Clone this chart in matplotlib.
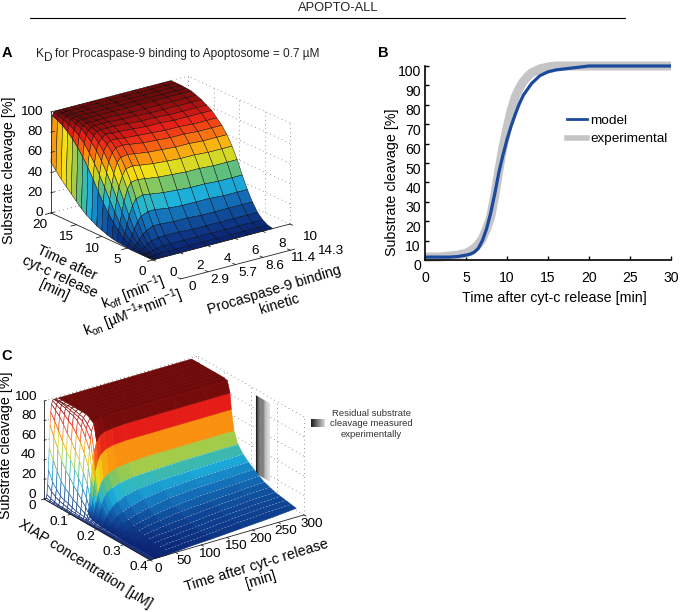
import numpy as np
import matplotlib
matplotlib.use("Agg")
import matplotlib.pyplot as plt
from matplotlib.colors import LinearSegmentedColormap
from matplotlib.lines import Line2D
from matplotlib.transforms import ScaledTranslation
from mpl_toolkits.mplot3d import proj3d

plt.rcParams['font.family'] = ['Liberation Sans', 'DejaVu Sans']
plt.rcParams['mathtext.default'] = 'regular'

W, H = 683, 612
TICK_FS = 9.7
LABEL_FS = 10.3

# Panel A: surface, one row per minute, one column per koff value
a_time = list(range(21))
a_koff = [0, 0.1, 0.2, 0.35, 0.5, 0.75, 1, 1.5, 2, 3, 4, 5, 6, 7, 8, 8.75]
a_z = [
    [0, 0, 0, 0, 0, 0, 0, 0, 0, 0, 0, 0, 0, 0, 0, 0],
    [0, 0, 0, 0, .5, .5, 1, 1, 1, 1, 1, 1, 1, 1, 1, 1],
    [0, .5, .5, 1, 1, 2, 3, 4, 4, 4, 4, 4, 4, 4, 4, 4],
    [0, 1, 2, 3, 4, 6, 8, 10, 10, 10, 9, 9, 9, 9, 9, 9],
    [0, 2, 4, 6, 9, 13, 16, 19, 19, 18, 18, 17, 17, 17, 17, 17],
    [.5, 4, 7, 12, 17, 24, 28, 31, 31, 29, 28, 28, 28, 27, 27, 27],
    [1, 7, 12, 20, 28, 37, 43, 45, 44, 42, 41, 40, 40, 39, 39, 39],
    [1.5, 12, 19, 30, 40, 51, 57, 58, 57, 55, 54, 53, 53, 52, 52, 52],
    [2.5, 18, 28, 41, 52, 62, 68, 69, 68, 66, 65, 64, 64, 63, 63, 63],
    [4, 25, 38, 52, 63, 73, 77, 78, 77, 75, 74, 73, 73, 72, 72, 72],
    [6, 33, 48, 62, 72, 80, 84, 85, 84, 82, 81, 80, 80, 79, 79, 79],
    [8, 42, 58, 71, 80, 86, 89, 89, 88, 87, 86, 85, 85, 84, 84, 84],
    [11, 52, 67, 79, 86, 90, 93, 92, 92, 91, 90, 90, 89, 89, 89, 89],
    [14, 61, 75, 85, 91, 94, 95, 95, 95, 94, 93, 93, 92, 92, 92, 92],
    [18, 69, 82, 90, 94, 96, 97, 97, 97, 96, 96, 95, 95, 95, 95, 95],
    [23, 76, 87, 94, 96, 98, 98, 98, 98, 98, 97, 97, 97, 97, 97, 97],
    [28, 82, 91, 96, 98, 99, 99, 99, 99, 99, 99, 99, 99, 99, 99, 99],
    [33, 87, 94, 98, 99, 99.5, 99.5, 99.5, 99.5, 99.5, 99.5, 99.5, 99.5, 99.5, 99.5, 99.5],
    [38, 91, 96, 99, 99.5, 100, 100, 100, 100, 100, 100, 100, 100, 100, 100, 100],
    [44, 94, 98, 99.5, 100, 100, 100, 100, 100, 100, 100, 100, 100, 100, 100, 100],
    [50, 96, 99, 100, 100, 100, 100, 100, 100, 100, 100, 100, 100, 100, 100, 100],
]
koff_ticks = [0, 2, 4, 6, 8, 10]
kon_ticks = ['0', '2.9', '5.7', '8.6', '11.4', '14.3']
a_time_ticks = [0, 5, 10, 15, 20]
z_ticks = [0, 20, 40, 60, 80, 100]

# Panel B
b_time = [0, 1, 2, 3, 4, 5, 5.5, 6, 6.5, 7, 7.5, 8, 8.5, 9, 9.5, 10, 10.5, 11, 11.5, 12, 12.5, 13,
          14, 15, 16, 18, 20, 25, 30]
b_model = [1.5, 1.5, 1.5, 1.5, 1.8, 2.5, 3, 4, 6, 10, 16, 24, 34, 45, 54, 62, 69, 75, 80.5, 85, 88, 91,
           95, 97, 98, 99, 100, 100, 100]
b_exp = [1.5, 1.5, 1.6, 2, 2.5, 3.5, 4.5, 6, 8, 11, 16, 22, 33, 46, 58, 68, 77, 84, 88.5, 92, 94.5, 96.5,
         98.5, 99.5, 100, 100, 100, 100, 100]
b_xticks = [0, 5, 10, 15, 20, 25, 30]
b_yticks = [0, 10, 20, 30, 40, 50, 60, 70, 80, 90, 100]

# Panel C: one row per XIAP value, one column per time
c_time = [0, 1.5, 3, 4.5, 6, 7.5, 9, 10.5, 12, 14, 16, 18, 20, 25, 30, 40, 55, 80, 120, 180, 240, 285]
c_xiap = [.005, .02, .035, .05, .065, .08, .095, .11, .125, .14, .15, .155, .165, .18, .2, .22, .24,
          .26, .28, .3, .32, .34, .36, .38, .4]
c_z = [
    [0, 2, 5, 15, 30, 52, 75, 88, 96, 99, 100, 100, 100, 100, 100, 100, 100, 100, 100, 100, 100, 100],
    [0, 1, 3, 10, 20, 42, 65, 81, 92, 97, 100, 100, 100, 100, 100, 100, 100, 100, 100, 100, 100, 100],
    [0, 1, 2, 7, 15, 33, 55, 73, 88, 95, 99, 100, 100, 100, 100, 100, 100, 100, 100, 100, 100, 100],
    [0, .5, 1, 5, 10, 25, 45, 65, 82, 92, 98, 99, 100, 100, 100, 100, 100, 100, 100, 100, 100, 100],
    [0, .5, 1, 4, 8, 20, 38, 57, 75, 88, 96, 98, 100, 100, 100, 100, 100, 100, 100, 100, 100, 100],
    [0, .5, 1, 3, 7, 17, 33, 51, 70, 85, 95, 97, 99, 100, 100, 100, 100, 100, 100, 100, 100, 100],
    [0, 0, .5, 2, 5, 13, 27, 44, 62, 79, 92, 96, 98, 100, 100, 100, 100, 100, 100, 100, 100, 100],
    [0, 0, .5, 2, 4, 11, 22, 37, 55, 73, 88, 94, 97, 100, 100, 100, 100, 100, 100, 100, 100, 100],
    [0, 0, .5, 1, 3, 8, 17, 29, 45, 64, 80, 88, 93, 98, 100, 100, 100, 100, 100, 100, 100, 100],
    [0, 0, .5, 1, 3, 6, 12, 21, 35, 53, 70, 80, 88, 95, 97, 98, 99, 99, 99, 99, 99, 99],
    [0, 0, 0, 1, 2, 4, 8, 14, 24, 37, 50, 60, 68, 78, 83, 86, 87, 88, 88, 88, 88, 88],
    [0, 0, 0, .5, 1, 3, 5, 9, 15, 24, 35, 43, 50, 60, 65, 69, 71, 72, 72, 72, 72, 72],
    [0, 0, 0, .5, 1, 2, 3, 5, 9, 14, 20, 25, 30, 38, 42, 46, 49, 51, 52, 52, 52, 52],
    [0, 0, 0, 0, .5, 1, 2, 3, 6, 9, 13, 16, 20, 26, 30, 33, 36, 38, 39, 40, 40, 40],
    [0, 0, 0, 0, .5, .5, 1, 2, 3, 5, 7, 9, 11, 15, 18, 22, 26, 29, 31, 32, 33, 33],
    [0, 0, 0, 0, 0, .5, 1, 1, 2, 3, 4, 5, 7, 10, 12, 15, 18, 22, 25, 27, 28, 28],
    [0, 0, 0, 0, 0, 0, .5, 1, 1, 2, 3, 3, 4, 6, 8, 10, 13, 16, 20, 22, 23, 24],
    [0, 0, 0, 0, 0, 0, .5, .5, 1, 1, 2, 2, 3, 4, 5, 7, 9, 12, 15, 18, 19, 20],
    [0, 0, 0, 0, 0, 0, 0, 0, .5, 1, 1, 1, 2, 3, 4, 5, 7, 9, 12, 14, 16, 17],
    [0, 0, 0, 0, 0, 0, 0, 0, .5, .5, 1, 1, 1, 2, 3, 4, 5, 7, 9, 12, 14, 15],
    [0, 0, 0, 0, 0, 0, 0, 0, 0, 0, .5, .5, 1, 1, 2, 3, 4, 5, 7, 10, 12, 13],
    [0, 0, 0, 0, 0, 0, 0, 0, 0, 0, .5, .5, .5, 1, 1, 2, 3, 4, 6, 9, 11, 12],
    [0, 0, 0, 0, 0, 0, 0, 0, 0, 0, 0, 0, .5, .5, 1, 1, 2, 3, 5, 8, 10, 11],
    [0, 0, 0, 0, 0, 0, 0, 0, 0, 0, 0, 0, 0, .5, .5, 1, 1.5, 2.5, 4, 7, 9, 10],
    [0, 0, 0, 0, 0, 0, 0, 0, 0, 0, 0, 0, 0, 0, 0, .5, 1, 2, 3, 5, 7, 9],
]
c_time_ticks = [0, 50, 100, 150, 200, 250, 300]
c_xiap_ticks = [0, .1, .2, .3, .4]

# muted jet as it looks in the figure
surf_cmap = LinearSegmentedColormap.from_list('muted_jet', [
    (0.00, (10 / 255, 35 / 255, 115 / 255)),
    (0.12, (15 / 255, 70 / 255, 150 / 255)),
    (0.25, (20 / 255, 120 / 255, 190 / 255)),
    (0.35, (30 / 255, 180 / 255, 220 / 255)),
    (0.45, (90 / 255, 190 / 255, 130 / 255)),
    (0.55, (190 / 255, 210 / 255, 50 / 255)),
    (0.62, (245 / 255, 225 / 255, 20 / 255)),
    (0.72, (250 / 255, 145 / 255, 15 / 255)),
    (0.80, (245 / 255, 80 / 255, 20 / 255)),
    (0.88, (230 / 255, 30 / 255, 25 / 255)),
    (0.95, (160 / 255, 15 / 255, 15 / 255)),
    (1.00, (110 / 255, 10 / 255, 10 / 255)),
])


def px(x, y):
    return x / W, 1 - y / H


def add_3d(left, top_center, size, aspect, elev, azim):
    # left / top_center in pixels, matplotlib puts the box centre at 0.5135 of the axes
    ax = fig.add_axes([left / W, (H - top_center - 0.5135 * size) / H, size / W, size / H],
                      projection='3d', proj_type='ortho', computed_zorder=False)
    ax.set_box_aspect(aspect)
    ax.view_init(elev=elev, azim=azim)
    ax.set_xticks([])
    ax.set_yticks([])
    ax.set_zticks([])
    ax.set_axis_off()
    ax.set_facecolor('none')
    return ax


def tick_text(ax, x, y, z, s, ha='center'):
    # limits must be set already, labels go in as plain 2D text at the projected spot
    x2, y2, _ = proj3d.proj_transform(x, y, z, ax.get_proj())
    ax.text2D(x2, y2, s, transform=ax.transData, ha=ha, va='center', fontsize=TICK_FS)


def box_grid(ax, x0, x1, y_front, y_back, xt, yt, zt):
    # dotted grid on the two back walls, solid front edges
    grid = dict(color='#777777', lw=0.6, ls=(0, (1, 4)), zorder=1)
    for z in zt:
        ax.plot([x0, x1], [y_back, y_back], [z, z], **grid)
        ax.plot([x1, x1], [y_front, y_back], [z, z], **grid)
    for x in xt:
        ax.plot([x, x], [y_back, y_back], [0, 100], **grid)
    for y in yt:
        ax.plot([x1, x1], [y, y], [0, 100], **grid)
    edge = dict(color='#222222', lw=0.6, zorder=3)
    ax.plot([x0, x1], [y_front, y_front], [0, 0], **edge)
    ax.plot([x0, x0], [y_front, y_back], [0, 0], **edge)
    ax.plot([x0, x0], [y_back, y_back], [0, 100], **edge)


fig = plt.figure(figsize=(W / 100, H / 100), dpi=100)

# header
fig.text(*px(338, 8), 'APOPTO-ALL', ha='center', va='center', fontsize=9.3, color='#222222')
fig.add_artist(Line2D([30 / W, 625 / W], [1 - 18 / H, 1 - 18 / H], color='k', lw=0.8))

fig.text(*px(2, 53), 'A', fontsize=10.5, fontweight='bold', va='center')
fig.text(*px(378, 53), 'B', fontsize=10.5, fontweight='bold', va='center')
fig.text(*px(1, 356), 'C', fontsize=10.5, fontweight='bold', va='center')

fig.text(*px(36, 54), 'K', fontsize=8.6, va='center', color='#222222')
fig.text(*px(44, 58), 'D', fontsize=8.6, va='center', color='#222222')
fig.text(*px(55, 54), 'for Procaspase-9 binding to Apoptosome = 0.7 µM', fontsize=8.6,
         va='center', color='#222222')

# --- panel A ---
ax_a = add_3d(38.8, 168, 256.4, (171.7, 169.4, 107.7), 20.3, -127)
X, Y = np.meshgrid(a_koff, a_time)
box_grid(ax_a, 0, 10, 0, 20, koff_ticks, a_time_ticks, z_ticks)
ax_a.plot_surface(X, Y, np.array(a_z), cmap=surf_cmap, vmin=0, vmax=100, rstride=1, cstride=1,
                  edgecolor='k', linewidth=0.3, zorder=2)
ax_a.set_xlim(0, 10)
ax_a.set_ylim(0, 20)
ax_a.set_zlim(0, 100)
for k in koff_ticks:
    ax_a.plot([k, k], [0, -0.5], [0, 0], color='#222222', lw=0.6, zorder=3)
    tick_text(ax_a, k - 0.39, -4.95, 0, str(k))
# kon runs on its own axis under koff
kon_x = [-0.63 + i * 2.0 for i in range(len(kon_ticks))]
ax_a.plot([kon_x[0], kon_x[-1]], [-7.15, -7.15], [0, 0], color='#222222', lw=0.6, zorder=3)
for x, lab in zip(kon_x, kon_ticks):
    ax_a.plot([x, x], [-7.15, -6.6], [0, 0], color='#222222', lw=0.6, zorder=3)
    tick_text(ax_a, x - 0.26, -10.2, 0, lab)
for t in a_time_ticks:
    ax_a.plot([0, -0.4], [t, t], [0, 0], color='#222222', lw=0.6, zorder=3)
    tick_text(ax_a, -1.72, t - 2.55, 0, str(t))
for z in z_ticks:
    ax_a.plot([0, 0.25], [20, 20], [z, z], color='#222222', lw=0.6, zorder=3)
    tick_text(ax_a, -0.38, 20.57, z, str(z), ha='right')
ax_a.set_xlim(0, 10)
ax_a.set_ylim(0, 20)
ax_a.set_zlim(0, 100)

fig.text(*px(9, 170), 'Substrate cleavage [%]', rotation=90, ha='center', va='center', fontsize=LABEL_FS)
fig.text(*px(60, 277), 'Time after\ncyt-c release\n[min]', rotation=-25, ha='center', va='center',
         multialignment='center', fontsize=LABEL_FS, rotation_mode='anchor', linespacing=1.1)
fig.text(*px(133, 293), r'k$_{off}$ [min$^{-1}$]', rotation=21, ha='center', va='center',
         fontsize=LABEL_FS, rotation_mode='anchor')
fig.text(*px(133, 313), r'k$_{on}$ [µM$^{-1}$*min$^{-1}$]', rotation=21, ha='center', va='center',
         fontsize=LABEL_FS, rotation_mode='anchor')
fig.text(*px(277, 297), 'Procaspase-9 binding\nkinetic', rotation=17, ha='center', va='center',
         multialignment='center', fontsize=LABEL_FS, rotation_mode='anchor', linespacing=1.1)

# --- panel B ---
ax_b = fig.add_axes([425 / W, 1 - 260 / H, 246 / W, 194 / H])
ax_b.plot(b_time, b_exp, color='#c5c5c7', lw=6.5, solid_capstyle='butt', clip_on=False)
ax_b.plot(b_time, b_model, color='#1b4a9d', lw=2.3, solid_capstyle='butt', clip_on=False)
ax_b.set_xlim(0, 30)
ax_b.set_ylim(0, 100)
ax_b.set_xticks(b_xticks)
ax_b.set_yticks(b_yticks)
ax_b.spines['top'].set_visible(False)
ax_b.spines['right'].set_visible(False)
ax_b.spines['left'].set_linewidth(1.2)
ax_b.spines['bottom'].set_linewidth(1.2)
ax_b.tick_params(axis='y', direction='in', length=3, width=1, labelsize=TICK_FS + 0.4, pad=3)
ax_b.tick_params(axis='x', direction='in', length=3, width=1, labelsize=TICK_FS + 0.4, pad=8)
# y tick labels sit a little under their ticks in the original
for lab in ax_b.get_yticklabels():
    lab.set_transform(lab.get_transform() + ScaledTranslation(0, -0.05, fig.dpi_scale_trans))
ax_b.set_xlabel('Time after cyt-c release [min]', fontsize=LABEL_FS)
ax_b.xaxis.set_label_coords(0.525, -0.16)
ax_b.set_ylabel('Substrate cleavage [%]', fontsize=LABEL_FS)
ax_b.yaxis.set_label_coords(-0.105, 0.4)
leg_lines = [Line2D([], [], color='#1b4a9d', lw=2), Line2D([], [], color='#c5c5c7', lw=4)]
ax_b.legend(leg_lines, ['model', 'experimental'], frameon=False, fontsize=TICK_FS, handlelength=1.45,
            handletextpad=0.3, labelspacing=0.45, loc='upper left', borderaxespad=0, borderpad=0,
            bbox_to_anchor=(567 / W, 1 - 114.5 / H), bbox_transform=fig.transFigure)

# --- panel C ---
ax_c = add_3d(32.5, 458, 275.5, (189, 182.4, 107.4), 24.2, -125.5)
box_grid(ax_c, 0, 300, 0.4, 0, c_time_ticks, c_xiap_ticks, z_ticks)
Zc = np.array(c_z, dtype=float)
Xc, Yc = np.meshgrid(c_time, c_xiap)

# colour of a facet follows its highest corner, the steep start stays white with coloured lines
corners = np.stack([Zc[:-1, :-1], Zc[1:, :-1], Zc[:-1, 1:], Zc[1:, 1:]])
edge_cols = surf_cmap(corners.max(axis=0) / 100)
face_cols = edge_cols.copy()
is_wall = np.zeros(face_cols.shape[:2], dtype=bool)
is_wall[:10, :13] = True
is_wall[:, :6] = True
face_cols[is_wall] = (1, 1, 1, 1)
edge_cols[is_wall] = surf_cmap(corners.mean(axis=0)[is_wall] / 100)

# grey wall behind the surface
wall_Y, wall_Z = np.meshgrid(np.linspace(.219, .272, 13), [14, 94])
wall_cols = np.ones((1, 12, 4))
wall_cols[0, :, :3] = np.linspace(.12, .88, 12)[:, None]
ax_c.plot_surface(np.full_like(wall_Y, 300.0), wall_Y, wall_Z, facecolors=wall_cols, shade=False,
                  rstride=1, cstride=1, linewidth=0, zorder=1.5)

surf_c = ax_c.plot_surface(Xc, Yc, Zc, facecolors=face_cols, shade=False,
                           rstride=1, cstride=1, linewidth=0.45, zorder=2)
surf_c.set_edgecolor(edge_cols.reshape(-1, 4))

# pale broken lines along the rows in the plateau
for i in range(13, len(c_xiap) - 1):
    ax_c.plot(c_time[15:], [c_xiap[i]] * 7, c_z[i][15:], color='white', lw=0.4, ls=(0, (3, 3)),
              alpha=0.6, zorder=2.5)

ax_c.set_xlim(0, 300)
ax_c.set_ylim(.4, 0)
ax_c.set_zlim(0, 100)
for t in c_time_ticks:
    ax_c.plot([t, t], [.4, .408], [0, 0], color='#222222', lw=0.6, zorder=3)
    tick_text(ax_c, t - 9.9, .449, 0, str(t))
for x in c_xiap_ticks:
    ax_c.plot([0, -5], [x, x], [0, 0], color='#222222', lw=0.6, zorder=3)
    tick_text(ax_c, -31.2, x + .0175, 0, '0' if x == 0 else str(x))
for z in z_ticks:
    ax_c.plot([0, 4], [0, 0], [z, z], color='#222222', lw=0.6, zorder=3)
    # labels stand a bit above their ticks in the original
    tick_text(ax_c, -10.3, -.0101, z + 4.5, str(z), ha='right')
ax_c.set_xlim(0, 300)
ax_c.set_ylim(.4, 0)
ax_c.set_zlim(0, 100)

fig.text(*px(6, 445), 'Substrate cleavage [%]', rotation=90, ha='center', va='center', fontsize=LABEL_FS)
fig.text(*px(85, 564), 'XIAP concentration [µM]', rotation=-32, ha='center', va='center',
         fontsize=LABEL_FS, rotation_mode='anchor')
fig.text(*px(259, 573), 'Time after cyt-c release\n[min]', rotation=17, ha='center', va='center',
         multialignment='center', fontsize=LABEL_FS, rotation_mode='anchor', linespacing=1.1)

# legend for the grey wall
ax_bar = fig.add_axes([311 / W, 1 - 427 / H, 14 / W, 8 / H])
ax_bar.imshow([np.linspace(0.12, 0.85, 30)], cmap='gray', vmin=0, vmax=1, aspect='auto')
ax_bar.axis('off')
fig.text(*px(371, 424), 'Residual substrate\ncleavage measured\nexperimentally', ha='center', va='center',
         multialignment='center', fontsize=6.8, linespacing=1.25, color='#333333')

fig.savefig('out.png', dpi=100)
